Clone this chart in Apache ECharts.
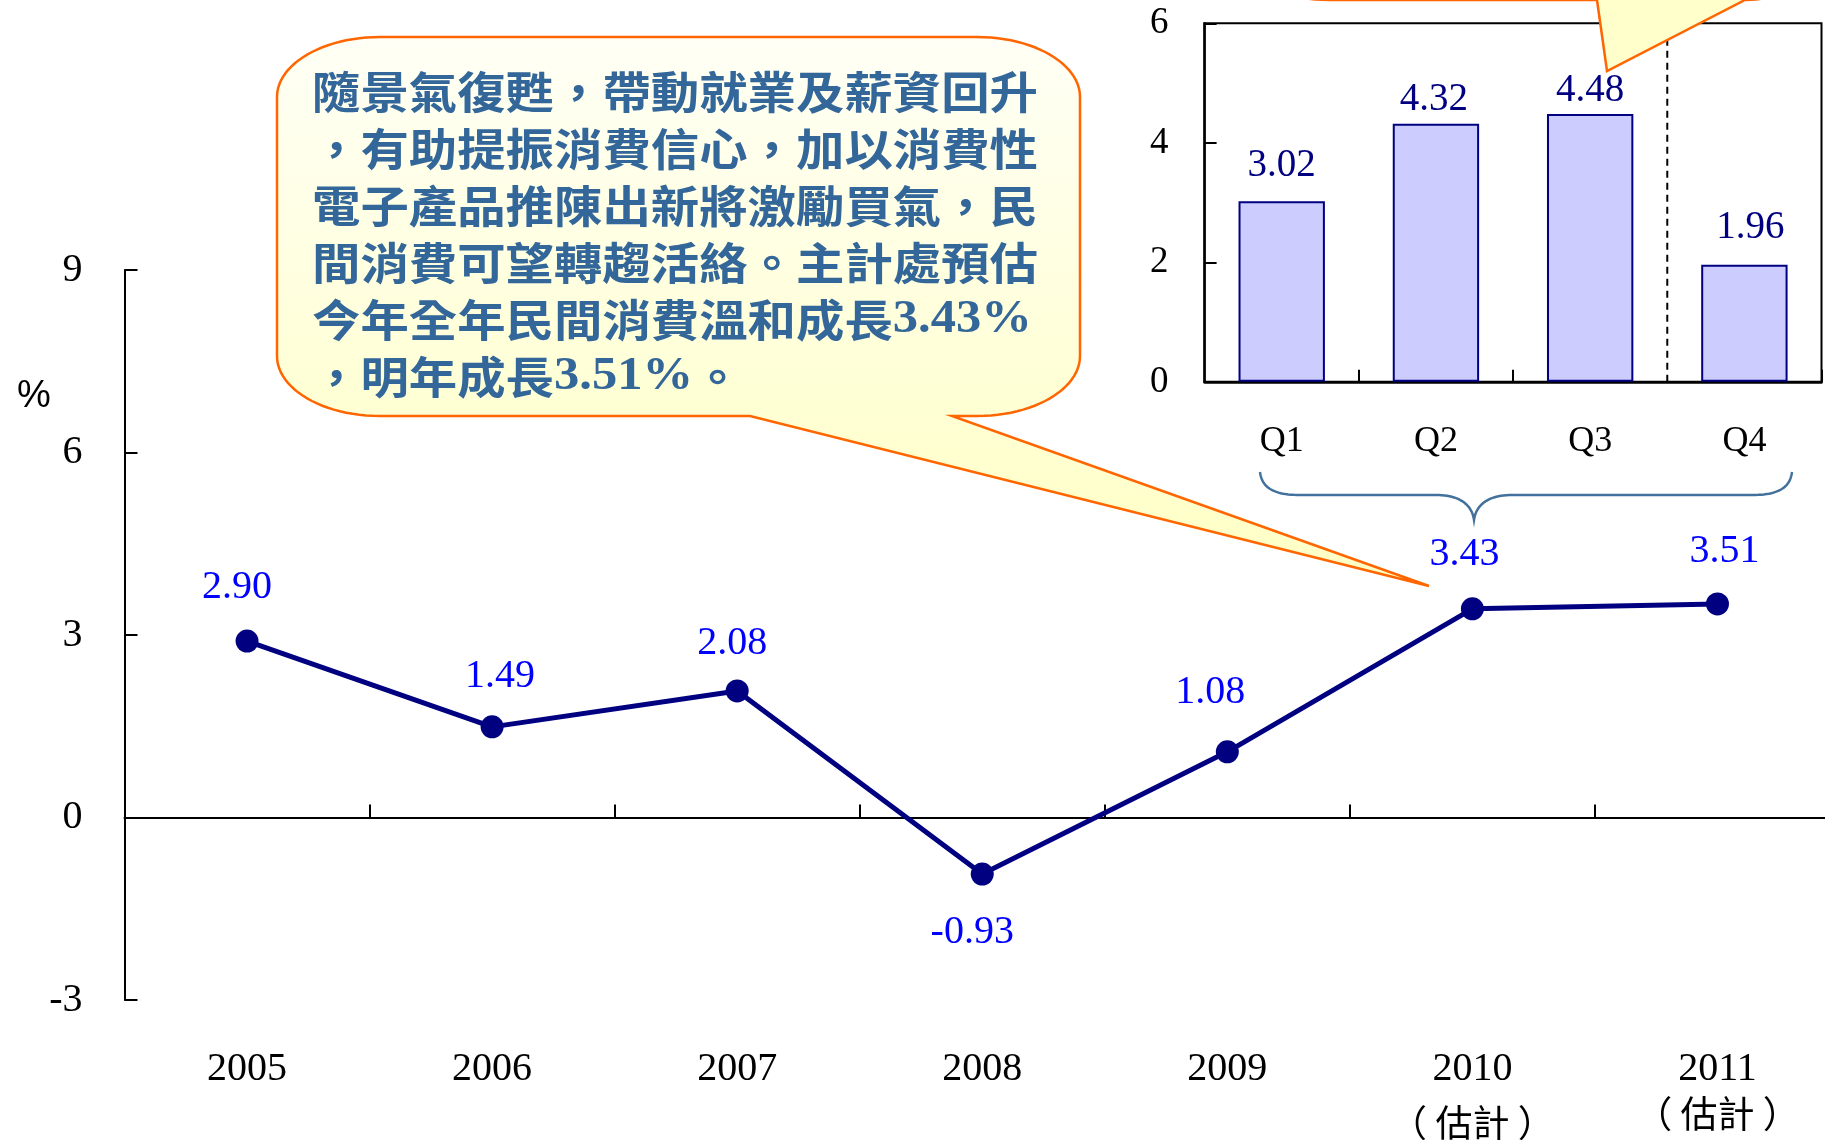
<!DOCTYPE html>
<html>
<head>
<meta charset="utf-8">
<script src="https://cdn.jsdelivr.net/npm/echarts@6/dist/echarts.min.js"></script>
<style>html,body{margin:0;padding:0;background:#fff;overflow:hidden}#c{width:1825px;height:1140px}</style>
</head>
<body>
<div id="c"></div>
<script>
// ---- data ----
const years = ['2005', '2006', '2007', '2008', '2009', '2010', '2011'];
const yearNotes = ['', '', '', '', '', '估計', '估計']; // shown in full-width brackets （估計）
const growth = [2.90, 1.49, 2.08, -0.93, 1.08, 3.43, 3.51];
const quarters = ['Q1', 'Q2', 'Q3', 'Q4'];
const quarterly = [3.02, 4.32, 4.48, 1.96];
const forecastSplit = 3; // boundary between actual (Q1-Q3) and forecast (Q4)
const calloutLines = [
  '隨景氣復甦，帶動就業及薪資回升',
  '，有助提振消費信心，加以消費性',
  '電子產品推陳出新將激勵買氣，民',
  '間消費可望轉趨活絡。主計處預估',
  '今年全年民間消費溫和成長3.43%',
  '，明年成長3.51%。'
];

// ---- label placement (style only) ----
const lineLabelOffsets = [[-10, -54], [8, -50], [-5, -47], [-10, 58], [-17, -59], [-8, -54], [7, -52]];
const barLabelOffsets = [[0, -12], [-2, 0], [0, 0], [6, -13]];

const serif = 'Liberation Serif';
const cjk = 'Noto Sans CJK TC';
const chart = echarts.init(document.getElementById('c'));

// sample a simple path (M, L, C) into points
function samplePath(segs) {
  const pts = [];
  let cx = 0, cy = 0;
  segs.forEach(function (s) {
    if (s[0] === 'M' || s[0] === 'L') { cx = s[1]; cy = s[2]; pts.push([cx, cy]); }
    else if (s[0] === 'C') {
      const x0 = cx, y0 = cy;
      for (let k = 1; k <= 24; k++) {
        const t = k / 24, u = 1 - t;
        const x = u * u * u * x0 + 3 * u * u * t * s[1] + 3 * u * t * t * s[3] + t * t * t * s[5];
        const y = u * u * u * y0 + 3 * u * u * t * s[2] + 3 * u * t * t * s[4] + t * t * t * s[6];
        pts.push([x, y]);
      }
      cx = s[5]; cy = s[6];
    }
  });
  return pts;
}

function richLine(s) {
  const parts = s.split(/([0-9.%]+)/);
  return parts.filter(function (p) { return p.length; }).map(function (p) {
    return /^[0-9.%]+$/.test(p) ? '{n|' + p + '}' : '{c|' + p + '}';
  }).join('');
}
const calloutText = calloutLines.map(richLine).join('\n');

const topBubble = samplePath([
  ['M', 1230, -200], ['L', 1230, -60], ['C', 1230, -25, 1270, 0, 1330, 0],
  ['L', 1597, 0], ['L', 1607, 71], ['L', 1745, 0],
  ['C', 1790, 0, 1815, -25, 1815, -60], ['L', 1815, -200]
]);
const mainBubble = samplePath([
  ['M', 380, 37], ['L', 977, 37], ['C', 1034, 37, 1080, 64, 1080, 97],
  ['L', 1080, 356], ['C', 1080, 389, 1034, 416, 977, 416],
  ['L', 952, 416], ['L', 1429, 586], ['L', 750, 416], ['L', 380, 416],
  ['C', 323, 416, 277, 389, 277, 356], ['L', 277, 97], ['C', 277, 64, 323, 37, 380, 37]
]);
const brace = samplePath([
  ['M', 1260, 472], ['C', 1262, 488, 1274, 495, 1300, 495], ['L', 1436, 495],
  ['C', 1460, 495, 1472, 505, 1474, 520], ['C', 1476, 505, 1488, 495, 1512, 495],
  ['L', 1752, 495], ['C', 1778, 495, 1790, 488, 1792, 472]
]);

function noteStyle(lh) {
  return { fontFamily: cjk, fontSize: 37, color: '#000', lineHeight: lh };
}

chart.setOption({
  animation: false,
  backgroundColor: '#fff',
  grid: [
    { left: 124.5, top: 270, width: 1715.5, bottom: 140, outerBoundsMode: 'none', containLabel: false },
    { left: 1204.6, top: 23.3, width: 616.9, bottom: 758.2, outerBoundsMode: 'none', containLabel: false, show: true, borderColor: '#000', borderWidth: 2, backgroundColor: 'transparent' }
  ],
  xAxis: [
    {
      type: 'category', gridIndex: 0, data: years, position: 'bottom',
      axisLine: { show: false, onZero: false }, axisTick: { show: false },
      axisLabel: {
        margin: 47, interval: 0,
        formatter: function (v, i) {
          if (!yearNotes[i]) return '{y|' + v + '}';
          const e = i === 5 ? 'e1' : 'e2';
          return '{y|' + v + '}\n{' + e + '|（ ' + yearNotes[i] + ' ）}';
        },
        rich: {
          y: { fontFamily: serif, fontSize: 40, color: '#000', lineHeight: 44 },
          e1: noteStyle(64),
          e2: noteStyle(46)
        }
      }
    },
    {
      type: 'category', gridIndex: 0, data: years, position: 'bottom',
      axisLine: { show: true, onZero: true, lineStyle: { color: '#000', width: 2 } },
      axisTick: { show: true, inside: true, length: 13, lineStyle: { color: '#000', width: 2 } },
      axisLabel: { show: false }
    },
    {
      type: 'category', gridIndex: 1, data: quarters,
      axisLine: { show: true, lineStyle: { color: '#000', width: 2.5 } },
      axisTick: { show: true, inside: true, length: 12, interval: function (i) { return i === 1 || i === 2; }, lineStyle: { color: '#000', width: 2 } },
      splitLine: { show: false },
      axisLabel: { margin: 42, fontFamily: serif, fontSize: 36, color: '#000' }
    },
    {
      type: 'value', gridIndex: 1, min: 0, max: quarters.length, show: false,
      splitLine: { show: false }
    }
  ],
  yAxis: [
    {
      type: 'value', gridIndex: 0, min: -3, max: 9, interval: 3,
      axisLine: { show: true, onZero: false, lineStyle: { color: '#000', width: 2 } },
      axisTick: { show: true, inside: true, length: 13, lineStyle: { color: '#000', width: 2 } },
      splitLine: { show: false },
      axisLabel: { margin: 42, fontFamily: serif, fontSize: 40, color: '#000' }
    },
    {
      type: 'value', gridIndex: 1, min: 0, max: 6, interval: 2,
      axisLine: { show: true, lineStyle: { color: '#000', width: 2.5 } },
      axisTick: { show: true, inside: true, length: 12, lineStyle: { color: '#000', width: 2 } },
      splitLine: { show: false },
      axisLabel: { margin: 36, fontFamily: serif, fontSize: 37, color: '#000' }
    }
  ],
  series: [
    {
      type: 'line', xAxisIndex: 0, yAxisIndex: 0,
      data: growth.map(function (v, i) {
        return { value: v, label: { offset: lineLabelOffsets[i] } };
      }),
      symbol: 'circle', symbolSize: 23,
      lineStyle: { color: '#000080', width: 5 },
      itemStyle: { color: '#000080' },
      label: {
        show: true, position: 'inside', fontFamily: serif, fontSize: 40, color: '#0000FF',
        formatter: function (p) { return p.value.toFixed(2); }
      },
      z: 5
    },
    {
      type: 'bar', xAxisIndex: 2, yAxisIndex: 1,
      data: quarterly.map(function (v, i) {
        return { value: v, label: { offset: barLabelOffsets[i] } };
      }),
      barWidth: '56%',
      itemStyle: { color: '#CCCCFF', borderColor: '#000080', borderWidth: 2 },
      label: {
        show: true, position: 'top', distance: 4, fontFamily: serif, fontSize: 39, color: '#000080',
        formatter: function (p) { return p.value.toFixed(2); }
      }
    },
    {
      type: 'line', xAxisIndex: 3, yAxisIndex: 1,
      data: [[forecastSplit, 0], [forecastSplit, 6]],
      symbol: 'none', silent: true,
      lineStyle: { color: '#000', width: 2, type: [7, 5] },
      z: 1
    }
  ],
  graphic: [
    {
      type: 'text', x: 17, y: 378, z: 10,
      style: { text: '%', font: '38px "Liberation Sans"', fill: '#000' }
    },
    {
      type: 'polygon', z: 20,
      shape: { points: topBubble },
      style: { fill: '#FFFFCC', stroke: '#FF6600', lineWidth: 2.5 }
    },
    {
      type: 'polygon', z: 20,
      shape: { points: mainBubble },
      style: {
        fill: new echarts.graphic.LinearGradient(0, 0, 0, 1, [
          { offset: 0, color: '#FFFFF6' },
          { offset: 1, color: '#FFFFC4' }
        ]),
        stroke: '#FF6600', lineWidth: 2.5
      }
    },
    {
      type: 'text', x: 312, y: 64, z: 21, scaleX: 1.1,
      style: {
        text: calloutText,
        fill: '#336699',
        rich: {
          c: { fontFamily: cjk, fontWeight: 'bold', fontSize: 44, lineHeight: 57, fill: '#336699' },
          n: { fontFamily: serif, fontWeight: 'bold', fontSize: 46, lineHeight: 57, fill: '#336699' }
        }
      }
    },
    {
      type: 'polyline', z: 10,
      shape: { points: brace },
      style: { fill: null, stroke: '#41719C', lineWidth: 2.5 }
    }
  ]
});
</script>
</body>
</html>
